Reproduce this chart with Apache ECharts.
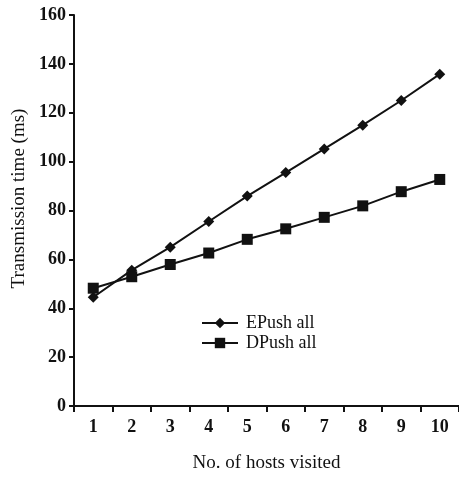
<!DOCTYPE html>
<html><head><meta charset="utf-8">
<script src="https://cdn.jsdelivr.net/npm/echarts@6/dist/echarts.min.js"></script>
<style>html,body{margin:0;padding:0;background:#fff}#c{width:459px;height:478px}</style>
</head><body><div id="c"></div>
<script>
const categories = ['1','2','3','4','5','6','7','8','9','10'];
const epushAll = [44.5, 55.6, 65.0, 75.5, 85.9, 95.5, 105.2, 114.9, 125.0, 135.8];
const dpushAll = [48.2, 52.9, 57.9, 62.6, 68.2, 72.5, 77.2, 81.9, 87.7, 92.7];
const yTicks = {min: 0, max: 160, interval: 20};

const FONT = '"Liberation Serif", "Times New Roman", serif';
const chart = echarts.init(document.getElementById('c'), null, {renderer: 'canvas'});
const lineStyle = {color: '#111', width: 2};
chart.setOption({
  animation: false,
  backgroundColor: '#fff',
  grid: {left: 74, top: 15, width: 389, height: 396, containLabel: false},
  legend: {
    orient: 'vertical', left: 196, top: 309, itemWidth: 36, itemHeight: 13, itemGap: 2,
    textStyle: {fontFamily: FONT, fontSize: 18, color: '#111', padding: [0, 0, 0, 3]},
    data: ['EPush all', 'DPush all']
  },
  xAxis: {
    type: 'category', data: categories, boundaryGap: true,
    name: 'No. of hosts visited', nameLocation: 'middle', nameGap: 48,
    nameTextStyle: {fontFamily: FONT, fontSize: 19, color: '#111'},
    axisLine: {lineStyle: {color: '#111', width: 2}},
    axisTick: {show: true, length: 6, lineStyle: {color: '#111', width: 2}},
    axisLabel: {fontFamily: FONT, fontSize: 18, fontWeight: 'bold', color: '#111', margin: 12, interval: 0},
    splitLine: {show: false}
  },
  yAxis: {
    type: 'value', min: yTicks.min, max: yTicks.max, interval: yTicks.interval,
    name: 'Transmission time (ms)', nameLocation: 'middle', nameGap: 35,
    nameTextStyle: {fontFamily: FONT, fontSize: 19, color: '#111', padding: [0, 0, 0, 24]},
    axisLine: {show: true, lineStyle: {color: '#111', width: 2}},
    axisTick: {show: true, length: 5, lineStyle: {color: '#111', width: 2}},
    axisLabel: {fontFamily: FONT, fontSize: 18, fontWeight: 'bold', color: '#111', margin: 8},
    splitLine: {show: false}
  },
  series: [
    {name: 'EPush all', type: 'line', data: epushAll, symbol: 'diamond', symbolSize: 11,
     lineStyle: lineStyle, itemStyle: {color: '#111'}},
    {name: 'DPush all', type: 'line', data: dpushAll, symbol: 'rect', symbolSize: 11,
     lineStyle: lineStyle, itemStyle: {color: '#111'}}
  ]
});
</script></body></html>
